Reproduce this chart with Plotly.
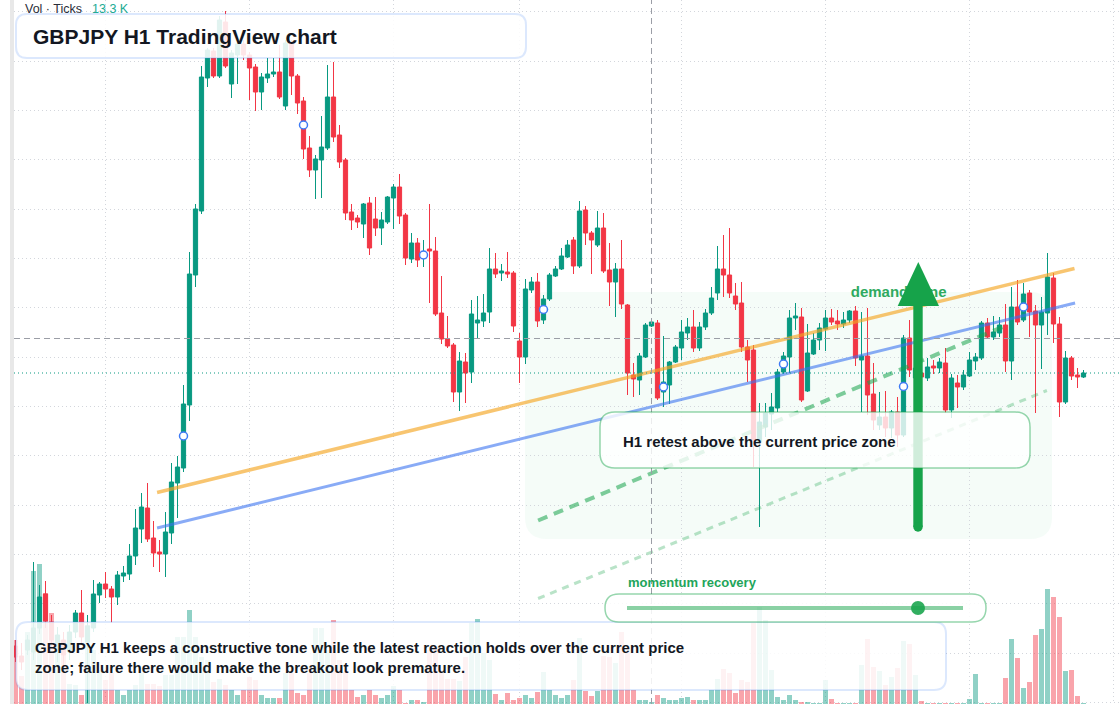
import plotly.graph_objects as go

# ---------------- data ----------------
candle_index = list(range(179))

open_ = [
    191.708, 191.688, 191.700, 191.696, 191.744, 191.812, 191.756, 191.700, 191.720, 191.696,
    191.736, 191.774, 191.716, 191.744, 191.810, 191.832, 191.822, 191.806, 191.848, 191.852,
    191.888, 191.942, 191.984, 191.924, 191.896, 191.892, 191.934, 192.034, 192.064, 192.190,
    192.450, 192.578, 192.844, 192.898, 192.848, 192.956, 192.832, 192.890, 192.912, 192.890,
    192.866, 192.816, 192.844, 192.852, 192.856, 192.788, 192.914, 192.848, 192.798, 192.704,
    192.660, 192.680, 192.704, 192.806, 192.730, 192.680, 192.576, 192.564, 192.552, 192.594,
    192.562, 192.544, 192.556, 192.604, 192.626, 192.570, 192.482, 192.514, 192.484, 192.502,
    192.498, 192.374, 192.322, 192.310, 192.216, 192.276, 192.256, 192.354, 192.358, 192.376,
    192.462, 192.454, 192.456, 192.454, 192.318, 192.286, 192.420, 192.436, 192.360, 192.402,
    192.448, 192.462, 192.486, 192.520, 192.468, 192.580, 192.534, 192.510, 192.544, 192.460,
    192.436, 192.462, 192.390, 192.250, 192.240, 192.286, 192.348, 192.354, 192.216, 192.230,
    192.276, 192.304, 192.334, 192.346, 192.304, 192.346, 192.374, 192.414, 192.462, 192.450,
    192.408, 192.394, 192.306, 192.300, 192.116, 192.146, 192.172, 192.184, 192.256, 192.286,
    192.364, 192.366, 192.218, 192.292, 192.320, 192.342, 192.364, 192.358, 192.352, 192.360,
    192.378, 192.280, 192.288, 192.212, 192.150, 192.166, 192.144, 192.176, 192.130, 192.324,
    192.244, 192.254, 192.244, 192.268, 192.264, 192.274, 192.180, 192.234, 192.226, 192.248,
    192.278, 192.284, 192.354, 192.326, 192.334, 192.350, 192.278, 192.386, 192.360, 192.414,
    192.378, 192.350, 192.374, 192.444, 192.352, 192.196, 192.284, 192.250, 192.246,
]

high = [
    191.720, 191.714, 191.730, 191.876, 191.830, 191.838, 191.770, 191.746, 191.736, 191.750,
    191.780, 191.820, 191.770, 191.840, 191.836, 191.856, 191.828, 191.858, 191.868, 191.912,
    191.982, 192.014, 192.034, 191.958, 191.920, 191.976, 192.074, 192.088, 192.230, 192.496,
    192.592, 192.868, 192.904, 192.904, 192.968, 192.978, 192.900, 192.920, 192.920, 192.896,
    192.872, 192.854, 192.884, 192.884, 192.910, 192.920, 192.920, 192.852, 192.806, 192.728,
    192.690, 192.768, 192.870, 192.876, 192.750, 192.684, 192.592, 192.570, 192.594, 192.606,
    192.606, 192.576, 192.608, 192.632, 192.652, 192.574, 192.534, 192.524, 192.520, 192.592,
    192.526, 192.448, 192.368, 192.314, 192.296, 192.294, 192.400, 192.408, 192.412, 192.504,
    192.494, 192.472, 192.496, 192.458, 192.334, 192.442, 192.446, 192.454, 192.410, 192.454,
    192.468, 192.504, 192.520, 192.526, 192.598, 192.588, 192.538, 192.578, 192.574, 192.514,
    192.474, 192.520, 192.392, 192.274, 192.294, 192.354, 192.364, 192.360, 192.328, 192.278,
    192.310, 192.360, 192.364, 192.380, 192.356, 192.382, 192.426, 192.508, 192.530, 192.544,
    192.434, 192.436, 192.320, 192.310, 192.194, 192.194, 192.214, 192.262, 192.296, 192.380,
    192.394, 192.384, 192.352, 192.334, 192.354, 192.380, 192.382, 192.380, 192.376, 192.380,
    192.388, 192.376, 192.384, 192.274, 192.216, 192.218, 192.180, 192.206, 192.330, 192.360,
    192.280, 192.260, 192.284, 192.280, 192.284, 192.304, 192.252, 192.250, 192.260, 192.296,
    192.294, 192.358, 192.364, 192.368, 192.366, 192.392, 192.426, 192.440, 192.434, 192.420,
    192.390, 192.406, 192.494, 192.454, 192.366, 192.298, 192.288, 192.264, 192.260,
]

low = [
    191.676, 191.660, 191.690, 191.680, 191.732, 191.744, 191.704, 191.676, 191.670, 191.680,
    191.724, 191.710, 191.594, 191.736, 191.794, 191.804, 191.754, 191.790, 191.836, 191.840,
    191.870, 191.914, 191.916, 191.866, 191.856, 191.846, 191.912, 191.964, 192.056, 192.158,
    192.426, 192.572, 192.826, 192.844, 192.844, 192.864, 192.804, 192.832, 192.880, 192.800,
    192.778, 192.780, 192.834, 192.846, 192.802, 192.780, 192.810, 192.772, 192.682, 192.646,
    192.602, 192.604, 192.700, 192.716, 192.664, 192.560, 192.540, 192.544, 192.524, 192.490,
    192.528, 192.510, 192.552, 192.542, 192.552, 192.470, 192.474, 192.466, 192.466, 192.394,
    192.368, 192.312, 192.304, 192.196, 192.178, 192.194, 192.234, 192.324, 192.346, 192.354,
    192.444, 192.438, 192.444, 192.336, 192.234, 192.272, 192.414, 192.346, 192.352, 192.398,
    192.446, 192.460, 192.484, 192.452, 192.464, 192.510, 192.452, 192.506, 192.454, 192.388,
    192.366, 192.382, 192.210, 192.206, 192.210, 192.284, 192.346, 192.200, 192.186, 192.192,
    192.274, 192.280, 192.320, 192.296, 192.298, 192.340, 192.370, 192.400, 192.406, 192.404,
    192.380, 192.296, 192.236, 192.066, 191.946, 192.126, 192.140, 192.176, 192.252, 192.254,
    192.340, 192.196, 192.216, 192.290, 192.300, 192.298, 192.350, 192.340, 192.344, 192.354,
    192.268, 192.176, 192.170, 192.140, 192.140, 192.126, 192.124, 192.106, 192.126, 192.246,
    192.230, 192.240, 192.238, 192.252, 192.254, 192.174, 192.164, 192.184, 192.220, 192.246,
    192.260, 192.280, 192.322, 192.320, 192.326, 192.256, 192.240, 192.350, 192.356, 192.326,
    192.174, 192.262, 192.330, 192.314, 192.166, 192.192, 192.240, 192.224, 192.244,
]

close = [
    191.686, 191.676, 191.720, 191.744, 191.806, 191.758, 191.720, 191.730, 191.690, 191.736,
    191.774, 191.726, 191.748, 191.812, 191.832, 191.822, 191.806, 191.850, 191.854, 191.888,
    191.944, 191.986, 191.922, 191.894, 191.892, 191.936, 192.036, 192.066, 192.192, 192.452,
    192.582, 192.846, 192.900, 192.848, 192.960, 192.868, 192.894, 192.912, 192.890, 192.864,
    192.816, 192.846, 192.852, 192.856, 192.806, 192.914, 192.848, 192.794, 192.702, 192.660,
    192.682, 192.706, 192.806, 192.726, 192.676, 192.574, 192.560, 192.556, 192.592, 192.504,
    192.544, 192.560, 192.606, 192.626, 192.568, 192.484, 192.514, 192.480, 192.496, 192.498,
    192.372, 192.322, 192.308, 192.216, 192.278, 192.254, 192.372, 192.360, 192.374, 192.462,
    192.452, 192.458, 192.452, 192.348, 192.286, 192.422, 192.436, 192.358, 192.402, 192.450,
    192.462, 192.488, 192.510, 192.468, 192.578, 192.534, 192.520, 192.544, 192.458, 192.436,
    192.462, 192.392, 192.254, 192.242, 192.288, 192.350, 192.356, 192.204, 192.236, 192.276,
    192.306, 192.336, 192.346, 192.304, 192.346, 192.374, 192.404, 192.462, 192.450, 192.414,
    192.392, 192.306, 192.280, 192.120, 192.156, 192.174, 192.186, 192.256, 192.288, 192.364,
    192.368, 192.200, 192.294, 192.320, 192.344, 192.364, 192.356, 192.352, 192.360, 192.378,
    192.284, 192.288, 192.210, 192.160, 192.166, 192.144, 192.176, 192.130, 192.324, 192.260,
    192.264, 192.246, 192.266, 192.264, 192.276, 192.180, 192.244, 192.226, 192.250, 192.280,
    192.286, 192.354, 192.326, 192.336, 192.350, 192.278, 192.386, 192.356, 192.412, 192.376,
    192.350, 192.376, 192.446, 192.352, 192.196, 192.284, 192.248, 192.246, 192.254,
]

volume = [
    6400, 2800, 7200, 13300, 14000, 11100, 9100, 6400, 5400, 2000,
    1900, 900, 7900, 5400, 3400, 2400, 3100, 1400, 900, 1400,
    1900, 3100, 2000, 2000, 1800, 2900, 2900, 6700, 6700, 9400,
    6700, 4700, 4400, 2200, 2500, 1900, 1400, 900, 1400, 2700,
    2400, 900, 600, 600, 600, 3100, 3100, 1100, 900, 3100,
    7600, 7600, 5400, 8400, 4400, 3200, 1400, 700, 900, 1400,
    900, 600, 900, 1800, 1400, 100, 400, 400, 200, 5400,
    5700, 3100, 2500, 2500, 2300, 4700, 8100, 8500, 5100, 4400,
    1000, 400, 1100, 400, 600, 900, 600, 1200, 3200, 1400,
    900, 600, 900, 2400, 6600, 1300, 800, 1300, 4800, 4700,
    4100, 7200, 5200, 1400, 400, 400, 200, 900, 600, 400,
    400, 600, 700, 400, 400, 400, 1400, 2500, 3500, 3100,
    1100, 2400, 2200, 8100, 9700, 8400, 3400, 700, 400, 900,
    400, 200, 200, 100, 100, 2400, 500, 100, 100, 100,
    100, 3900, 6500, 3700, 3300, 1900, 2700, 3600, 6300, 6000,
    2900, 300, 100, 100, 100, 100, 100, 100, 100, 500,
    3000, 100, 100, 100, 100, 2600, 6500, 4600, 1600, 2200,
    6900, 7500, 11500, 10700, 8700, 3300, 3400, 800, 100,
]

marker_idx = list(range(28, 179, 20))

trend_orange_x = [23.6, 176.5]
trend_orange_y = [192.015, 192.463]
trend_blue_x = [23.6, 176.6]
trend_blue_y = [191.944, 192.394]
support_main_x = [87.1, 164.9]
support_main_y = [191.959, 192.348]
support_outer_x = [87.1, 171.9]
support_outer_y = [191.803, 192.219]

crosshair_idx = 106
crosshair_price = 192.323

demand_label_x = 147.2
demand_label_price = 192.414

grid_x = [15, 39, 63, 84, 111, 135, 159, 183]

# ---------------- style ----------------
GREEN = "#089981"
RED = "#f23645"
FONT = "Liberation Sans, Arial, sans-serif"
TEXT = "#131722"
ACCENT = "#16a34a"

W, H = 1120, 704
L = 14
PW = W - L


def px(x):
    return (x - L) / PW


def py(y):
    return 1 - y / H


def P(x, y):
    return f"{px(x):.5f},{py(y):.5f}"


def rrect(x0, y0, x1, y1, r):
    return (f"M {P(x0 + r, y0)} L {P(x1 - r, y0)} Q {P(x1, y0)} {P(x1, y0 + r)} "
            f"L {P(x1, y1 - r)} Q {P(x1, y1)} {P(x1 - r, y1)} L {P(x0 + r, y1)} "
            f"Q {P(x0, y1)} {P(x0, y1 - r)} L {P(x0, y0 + r)} Q {P(x0, y0)} {P(x0 + r, y0)} Z")


vol_colors = ["rgba(8,153,129,0.45)" if c >= o else "rgba(242,54,69,0.45)"
              for o, c in zip(open_, close)]

fig = go.Figure()

fig.add_trace(go.Bar(x=candle_index, y=volume, marker=dict(color=vol_colors, line=dict(width=0)),
                     width=0.83, yaxis="y", hoverinfo="skip"))

fig.add_trace(go.Candlestick(
    x=candle_index, open=open_, high=high, low=low, close=close,
    increasing=dict(line=dict(color=GREEN, width=1), fillcolor=GREEN),
    decreasing=dict(line=dict(color=RED, width=1), fillcolor=RED),
    whiskerwidth=0, yaxis="y2", hoverinfo="skip"))

fig.add_trace(go.Scatter(x=trend_orange_x, y=trend_orange_y, mode="lines", yaxis="y2",
                         line=dict(color="rgba(245,166,35,0.65)", width=3.5), hoverinfo="skip"))
fig.add_trace(go.Scatter(x=trend_blue_x, y=trend_blue_y, mode="lines", yaxis="y2",
                         line=dict(color="rgba(59,115,240,0.6)", width=3), hoverinfo="skip"))
fig.add_trace(go.Scatter(x=support_main_x, y=support_main_y, mode="lines", yaxis="y2",
                         line=dict(color="rgba(22,163,74,0.55)", width=4, dash="10px,7px"),
                         hoverinfo="skip"))
fig.add_trace(go.Scatter(x=support_outer_x, y=support_outer_y, mode="lines", yaxis="y2",
                         line=dict(color="rgba(22,163,74,0.3)", width=3, dash="7px,6px"),
                         hoverinfo="skip"))

fig.add_trace(go.Scatter(
    x=marker_idx, y=[(open_[i] + close[i]) / 2 for i in marker_idx], mode="markers", yaxis="y2",
    marker=dict(size=8, color="white", line=dict(color="#3d7af5", width=1.5)), hoverinfo="skip"))

fig.add_trace(go.Scatter(
    x=[demand_label_x], y=[demand_label_price], mode="text", yaxis="y2",
    text=["<b>demand zone</b>"], textposition="middle center",
    textfont=dict(size=15, color="#2eaa5f", family=FONT), hoverinfo="skip"))

shapes = [
    # demand zone
    dict(type="path", xref="paper", yref="paper", path=rrect(525, 292, 1052, 539, 22),
         fillcolor="rgba(34,197,94,0.045)", line=dict(width=0), layer="below"),
    # left strip
    dict(type="rect", xref="paper", yref="paper", x0=px(10), x1=px(14), y0=0, y1=1,
         fillcolor="#e8e8e8", line=dict(width=0), layer="above"),
    # crosshair
    dict(type="line", xref="x", yref="paper", x0=crosshair_idx, x1=crosshair_idx, y0=0, y1=1,
         line=dict(color="#9b9ea6", width=1, dash="6px,4px"), layer="above"),
    dict(type="line", xref="paper", yref="y2", x0=0, x1=1, y0=crosshair_price, y1=crosshair_price,
         line=dict(color="#9b9ea6", width=1, dash="6px,4px"), layer="above"),
    # last price line
    dict(type="line", xref="paper", yref="y2", x0=0, x1=1, y0=close[-1], y1=close[-1],
         line=dict(color=GREEN, width=1, dash="1px,3px"), layer="above"),
    # arrow
    dict(type="rect", xref="paper", yref="paper", x0=px(913.3), x1=px(922.7), y0=py(527), y1=py(300),
         fillcolor=ACCENT, line=dict(width=0), layer="above"),
    dict(type="circle", xref="paper", yref="paper", x0=px(913.3), x1=px(922.7), y0=py(531.7), y1=py(522.3),
         fillcolor=ACCENT, line=dict(width=0), layer="above"),
    dict(type="path", xref="paper", yref="paper",
         path=f"M {P(897.7, 306)} L {P(939, 306)} L {P(918.3, 262)} Z",
         fillcolor=ACCENT, line=dict(width=0), layer="above"),
    # H1 box
    dict(type="path", xref="paper", yref="paper", path=rrect(600, 412, 1030, 468, 15),
         fillcolor="rgba(255,255,255,0.8)", line=dict(color="rgba(22,163,74,0.45)", width=1.5),
         layer="above"),
    # title box
    dict(type="path", xref="paper", yref="paper", path=rrect(16, 14, 526, 58, 11),
         fillcolor="rgba(255,255,255,0.88)", line=dict(color="rgba(59,130,246,0.18)", width=2),
         layer="above"),
    # bottom box
    dict(type="path", xref="paper", yref="paper", path=rrect(16, 622, 946, 690, 12),
         fillcolor="rgba(255,255,255,0.86)", line=dict(color="rgba(59,130,246,0.18)", width=2),
         layer="above"),
    # momentum pill
    dict(type="path", xref="paper", yref="paper", path=rrect(605, 594, 986, 622, 14),
         fillcolor="rgba(255,255,255,0.85)", line=dict(color="rgba(22,163,74,0.45)", width=1.5),
         layer="above"),
    dict(type="line", xref="paper", yref="paper", x0=px(627), x1=px(963), y0=py(608), y1=py(608),
         line=dict(color="rgba(22,163,74,0.5)", width=4), layer="above"),
    dict(type="circle", xref="paper", yref="paper", x0=px(911), x1=px(925), y0=py(615), y1=py(601),
         fillcolor="rgba(22,163,74,0.88)", line=dict(width=0), layer="above"),
]

annotations = [
    dict(text="Vol · Ticks", xref="paper", yref="paper", x=px(22.5), y=py(8.5), xanchor="left",
         yanchor="middle", showarrow=False, font=dict(size=12.5, color="#2a2e39", family=FONT)),
    dict(text="13.3 K", xref="paper", yref="paper", x=px(89.5), y=py(8.5), xanchor="left",
         yanchor="middle", showarrow=False, font=dict(size=12.5, color="#22ab94", family=FONT)),
    dict(text="<b>GBPJPY H1 TradingView chart</b>", xref="paper", yref="paper", x=px(31), y=py(36),
         xanchor="left", yanchor="middle", showarrow=False, font=dict(size=21, color=TEXT, family=FONT)),
    dict(text="<b>GBPJPY H1 keeps a constructive tone while the latest reaction holds over the current price"
              "<br>zone; failure there would make the breakout look premature.</b>",
         xref="paper", yref="paper", x=px(33), y=py(657.5), xanchor="left", yanchor="middle",
         align="left", showarrow=False, font=dict(size=15, color=TEXT, family=FONT)),
    dict(text="<b>H1 retest above the current price zone</b>", xref="paper", yref="paper",
         x=px(621), y=py(441.5), xanchor="left", yanchor="middle", showarrow=False,
         font=dict(size=15, color=TEXT, family=FONT)),
    dict(text="<b>momentum recovery</b>", xref="paper", yref="paper", x=px(626), y=py(582.5),
         xanchor="left", yanchor="middle", showarrow=False,
         font=dict(size=13, color="#22a55a", family=FONT)),
]

GRID = "#d3d6dc"
fig.update_layout(
    width=W, height=H, margin=dict(l=L, r=0, t=0, b=0),
    paper_bgcolor="white", plot_bgcolor="white",
    showlegend=False, hovermode=False,
    boxgap=0.3, boxgroupgap=0.0,
    xaxis=dict(range=[-0.25, 184.083], showticklabels=False, tickmode="array", tickvals=grid_x,
               showgrid=True, gridcolor=GRID, griddash="1px,3px", gridwidth=1,
               zeroline=False, showline=False, ticks="", rangeslider=dict(visible=False),
               fixedrange=True),
    yaxis=dict(range=[0, 70400], showgrid=False, showticklabels=False, zeroline=False,
               showline=False, fixedrange=True),
    yaxis2=dict(range=[191.592, 193.0], overlaying="y", side="right", showticklabels=False,
                tickmode="linear", tick0=192.9766, dtick=0.09871, showgrid=True, gridcolor=GRID,
                griddash="1px,3px", gridwidth=1, zeroline=False, showline=False, ticks="",
                fixedrange=True),
    shapes=shapes, annotations=annotations,
)

fig.write_html("out.html", config={"displayModeBar": False})
